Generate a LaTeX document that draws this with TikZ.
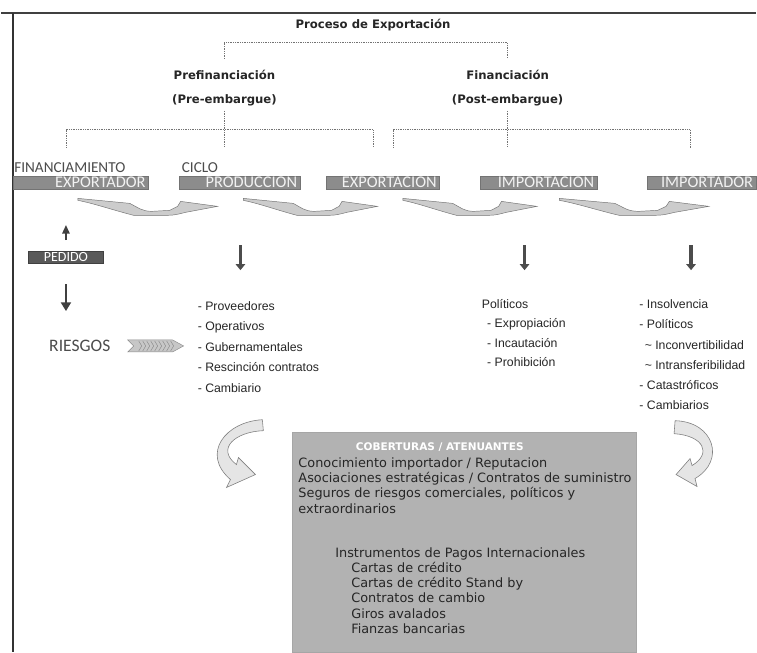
\documentclass[tikz,border=0pt]{standalone}
\usepackage{fontspec}
\setmainfont{Liberation Sans}
\newfontfamily\carl{Carlito}
\newfontfamily\dejav{DejaVu Sans}
\usetikzlibrary{calc,arrows.meta}

\newcommand\pxu{0.3mm}
\newcommand\ind{\hspace*{1.6mm}}
% curved ribbon arrow under the bars: #1 = left x, #2 = x scale
\newcommand\swoosh[2]{%
  \filldraw[ribbon,shift={(#1,199)},xscale=#2]
    (0,0) -- (52,5) .. controls (60,9) and (64,13) .. (74,13) -- (92,12)
    -- (100,8) -- (103,3) -- (140,8) -- (108,14)
    .. controls (96,17) .. (82,17) -- (56,17)
    .. controls (36,12) and (16,5) .. (0,2) -- cycle;}

\begin{document}
\begin{tikzpicture}[x=0.3mm,y=-0.3mm,
  hdr/.style={font=\dejav\bfseries\fontsize{10}{12}\selectfont,text=black!85,inner sep=1pt},
  lab/.style={font=\carl\fontsize{13}{15}\selectfont,text=black!70,inner sep=0,anchor=west},
  bar/.style={fill=black!45,draw=black!55,line width=0.3pt,anchor=west,
    minimum height=13*\pxu,inner xsep=0.8mm,inner ysep=0,text width=#1,align=right,
    font=\carl\fontsize{14}{14}\selectfont,text=black!5},
  lst/.style={text=black!85,align=left,inner sep=0,anchor=west},
  btxt/.style={font=\dejav\fontsize{11}{13}\selectfont,text=black!85,align=left,inner sep=0,anchor=north west},
  bracket/.style={densely dotted,black!55,line width=0.5pt},
  darrow/.style={black!70,line width=1mm,-{Triangle[length=1.8mm,width=2.8mm]}},
  tarrow/.style={black!75,line width=0.55mm,-{Triangle[length=2.6mm,width=#1]}},
  ribbon/.style={fill=black!20,draw=black!55,line width=0.4pt},
  curlarrow/.style={fill=black!10,draw=black!50,line width=0.5pt}]
  \fill[white] (0,0) rectangle (757,654);
  % frame
  \draw[black!75,line width=0.7mm] (0,13) -- (757,13);
  \draw[black!80,line width=0.4mm] (12,13) -- (12,654);

  % headings
  \node[hdr] (proc) at (373,25) {Proceso de Exportación};
  \node[hdr] (pre) at (224,75) {Prefinanciación};
  \node[hdr] (preb) at (224,101) {(Pre-embargue)};
  \node[hdr] (fin) at (508,75) {Financiación};
  \node[hdr] (finb) at (508,101) {(Post-embargue)};
  \draw[bracket] (pre.north) ++(0,-10) -- ++(0,-16) -| ([yshift=10*\pxu]fin.north);

  \coordinate (pl) at (65,130);
  \coordinate (pr) at (373,130);
  \coordinate (fl) at (393,130);
  \coordinate (fr) at (691,130);
  \draw[bracket] ([yshift=-3*\pxu]preb.south) -- (preb.south |- pl) -- ++(0,18);
  \draw[bracket] (pl) ++(0,18) -- (pl) -- (pr) -- ++(0,18);
  \draw[bracket] ([yshift=-3*\pxu]finb.south) -- (finb.south |- fl) -- ++(0,18);
  \draw[bracket] (fl) ++(0,18) -- (fl) -- (fr) -- ++(0,18);

  % process bars
  \node[lab] (finl) at (13,168) {FINANCIAMIENTO};
  \node[lab] (cic) at (181,168) {CICLO};
  \node[bar=39mm] (exptr) at (12,183) {EXPORTADOR};
  \node[bar=34.8mm] (prod) at (178,183) {PRODUCCION};
  \node[bar=32.4mm] (expn) at (326,183) {EXPORTACION};
  \node[bar=33.6mm] (impn) at (480,183) {IMPORTACION};
  \node[bar=31mm] (imptr) at (648,183) {IMPORTADOR};
  \swoosh{77}{1}
  \swoosh{243}{0.96}
  \swoosh{403}{0.96}
  \swoosh{560}{1.07}

  % pedido and riesgos
  \node[fill=black!65,draw=black!75,minimum width=75*\pxu,minimum height=12*\pxu,inner sep=0,
    font=\carl\fontsize{12}{12}\selectfont,text=white] (ped) at (65,258) {PEDIDO};
  \node[lab,font=\carl\fontsize{15}{17}\selectfont] (ries) at (48,347) {RIESGOS};
  \draw[tarrow=2.2mm,shorten <=3.3mm,shorten >=10.8mm] (ped.north) -- (ped.north |- exptr.south);
  \draw[tarrow=3mm,shorten <=6.3mm,shorten >=8.7mm] (ped.south) -- (ped.south |- ries.north);
  \filldraw[fill=black!22,draw=black!45] (127,341) -- (172,341) -- (183,347) -- (172,353)
    -- (127,353) -- (133,347) -- cycle;
  \foreach \i in {0,...,8}
    \draw[black!45] (138+4*\i,342) -- (141+4*\i,347) -- (138+4*\i,352);

  % risk lists
  \coordinate (a1) at (240,246);
  \coordinate (a2) at (525,246);
  \coordinate (a3) at (692,246);
  \foreach \c in {a1,a2,a3}
    \draw[darrow] (\c) -- ++(0,25);
  \node[lst,font=\fontsize{10.5}{17.5}\selectfont] (rprod) at (197,348)
    {- Proveedores\\- Operativos\\- Gubernamentales\\- Rescinción contratos\\- Cambiario};
  \node[lst,font=\fontsize{10.5}{16.5}\selectfont] (rexp) at (482,334)
    {Políticos\\\ind- Expropiación\\\ind- Incautación\\\ind- Prohibición};
  \node[lst,font=\fontsize{10.5}{17.3}\selectfont] (rimp) at (640,356)
    {- Insolvencia\\- Políticos\\\ind\textasciitilde\ Inconvertibilidad\\\ind\textasciitilde\ Intransferibilidad\\- Catastróficos\\- Cambiarios};

  % coverage box
  \node[fill=black!30,draw=black!35,anchor=north west,minimum width=345*\pxu,
    minimum height=221*\pxu,inner sep=0] (cob) at (292,433) {};
  \node[font=\dejav\bfseries\fontsize{9}{11}\selectfont,text=white] (cobt) at (440,448)
    {COBERTURAS / ATENUANTES};
  \node[btxt] (cob1) at (298,459) {Conocimiento importador / Reputacion\\
    Asociaciones estratégicas / Contratos de suministro\\
    Seguros de riesgos comerciales, políticos y\\extraordinarios};
  \node[btxt] (cob2) at (335,549) {Instrumentos de Pagos Internacionales\\
    \hspace*{4.8mm}Cartas de crédito\\\hspace*{4.8mm}Cartas de crédito Stand by\\
    \hspace*{4.8mm}Contratos de cambio\\\hspace*{4.8mm}Giros avalados\\
    \hspace*{4.8mm}Fianzas bancarias};
  \filldraw[curlarrow] (262,421) .. controls (225,423) and (200,455) .. (230,481) -- (226,489)
    -- (255,476) -- (238,459) -- (236,466) .. controls (215,450) and (235,433) .. (263,432) -- cycle;
  \filldraw[curlarrow] (676,422) .. controls (715,423) and (727,462) .. (696,480) -- (698,488)
    -- (677,476) -- (691,460) -- (693,467) .. controls (713,455) and (705,437) .. (675,435) -- cycle;
\end{tikzpicture}
\end{document}
